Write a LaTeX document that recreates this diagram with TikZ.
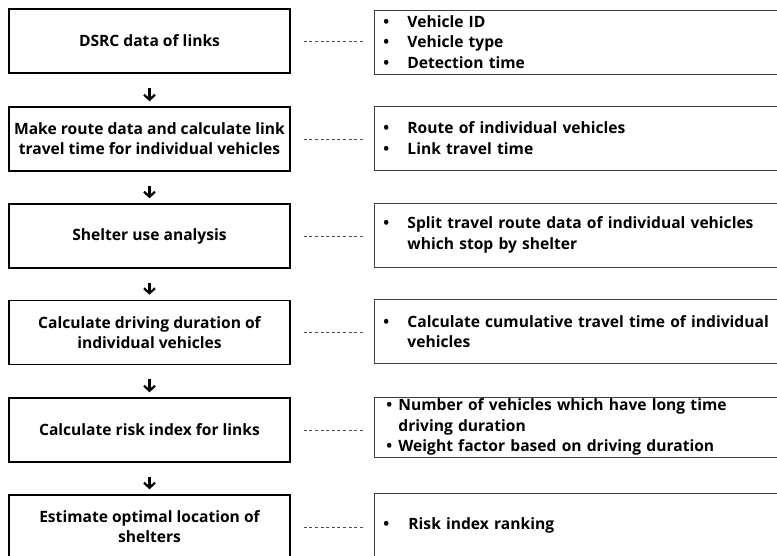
\documentclass[tikz,border=0pt]{standalone}
\usepackage{fontspec}
\setmainfont{Open Sans}
\usetikzlibrary{arrows.meta}

\newcommand{\bul}[1][24pt]{\makebox[#1][l]{\textbullet}}

\begin{document}
\begin{tikzpicture}[x=1pt, y=-1pt,
    stepbox/.style={draw, rectangle, line width=1.5pt, minimum width=281pt, minimum height=64pt,
        align=center, font=\bfseries\fontsize{15.6}{20}\selectfont},
    notebox/.style={draw=black!75, rectangle, line width=0.9pt, anchor=west, minimum height=64pt,
        text width=430pt, inner xsep=9pt, inner ysep=1pt, align=left,
        font=\bfseries\fontsize{15.6}{20.5}\selectfont},
    flow/.style={-{Straight Barb[length=5pt, width=11pt]}, line width=2.2pt, shorten <=14pt, shorten >=5pt},
    link/.style={dash pattern=on 3pt off 2.6pt, black!70, line width=0.6pt, shorten <=13pt, shorten >=9pt}]
    \useasboundingbox (0,0) rectangle (777,556);
    \clip (0,0) rectangle (777,556);

    % process steps
    \node[stepbox] (dsrc) at (149.5,41) {DSRC data of links};
    \node[stepbox] (route) at (149.5,139) {Make route data and calculate link\\travel time for individual vehicles};
    \node[stepbox] (shelter) at (149.5,236) {Shelter use analysis};
    \node[stepbox] (driving) at (149.5,332.5) {Calculate driving duration of\\individual vehicles};
    \node[stepbox] (risk) at (149.5,430) {Calculate risk index for links};
    \node[stepbox] (optimal) at (149.5,527) {Estimate optimal location of\\shelters};

    % notes
    \node[notebox] (dsrcnote) at (374,42) {\bul Vehicle ID\\\bul Vehicle type\\\bul Detection time};
    \node[notebox] (routenote) at (374,138) {\bul Route of individual vehicles\\\bul Link travel time};
    \node[notebox] (sheltnote) at (374,235) {\bul Split travel route data of individual vehicles\\\hspace*{24pt}which stop by shelter};
    \node[notebox] (drivnote) at (374,331.5) {\bul Calculate cumulative travel time of individual\\\hspace*{24pt}vehicles};
    \node[notebox, minimum height=60pt, inner xsep=12pt] (risknote) at (374,427)
        {\bul[12pt]Number of vehicles which have long time\\\hspace*{12pt}driving duration\\\bul[12pt]Weight factor based on driving duration};
    \node[notebox] (optnote) at (374,525) {\bul[25pt]Risk index ranking};

    % arrows
    \foreach \a/\b in {dsrc/route, route/shelter, shelter/driving, driving/risk, risk/optimal}
        \draw[flow] (\a.south) -- (\b.north);

    % dashed links
    \foreach \a/\b in {dsrc/dsrcnote, route/routenote, shelter/sheltnote, driving/drivnote, risk/risknote, optimal/optnote}
        \draw[link] (\a.east) -- (\a.east -| \b.west);
\end{tikzpicture}
\end{document}
